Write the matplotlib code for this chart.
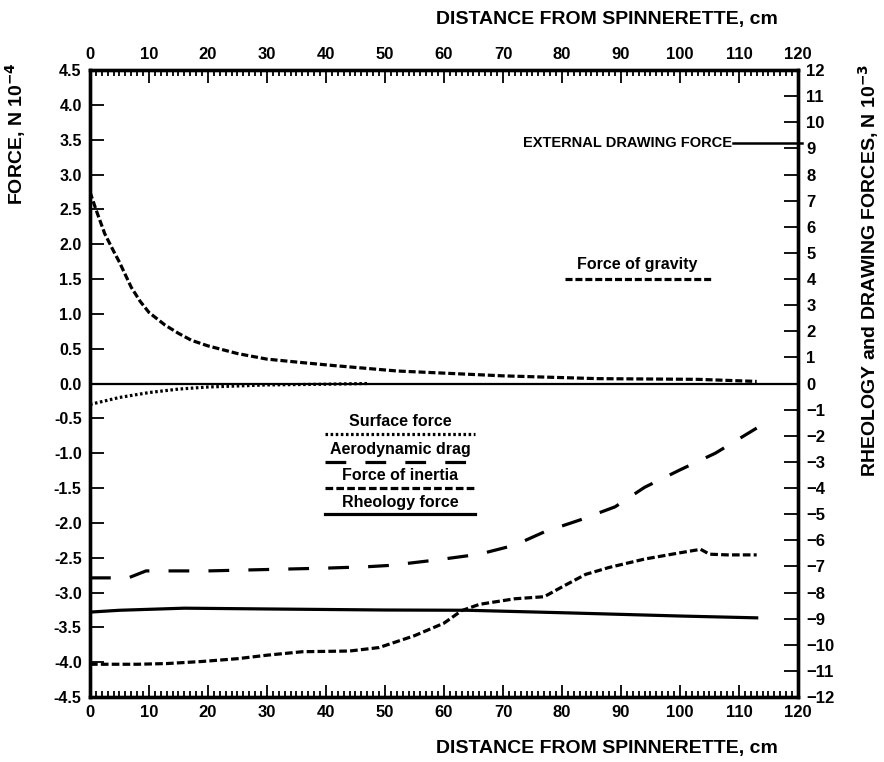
import matplotlib
matplotlib.use("Agg")
import matplotlib.pyplot as plt
from matplotlib.ticker import MultipleLocator, FixedLocator

plt.rcParams['font.family'] = ['Liberation Sans', 'DejaVu Sans']
plt.rcParams['font.weight'] = 'bold'
plt.rcParams['mathtext.default'] = 'bf'

# Distance from spinnerette, cm
gravity_x = [0, 1, 2.5, 4, 5, 7, 8.5, 10, 12.7, 15, 17.2, 20, 25, 30, 36, 41,
             52, 70, 86, 103, 113]
gravity_f = [2.75, 2.50, 2.15, 1.90, 1.74, 1.38, 1.18, 1.02, 0.84, 0.72, 0.62,
             0.54, 0.43, 0.35, 0.30, 0.26, 0.18, 0.11, 0.07, 0.06, 0.03]

surface_x = [0, 5, 10, 15, 20, 30, 40, 47]
surface_f = [-0.30, -0.20, -0.13, -0.08, -0.05, -0.02, -0.01, 0.0]

aero_x = [0, 6.5, 9.5, 12, 20, 30, 40, 47, 51, 59, 66, 72, 77, 83, 89, 94, 100, 106, 113]
aero_f = [-2.79, -2.79, -2.69, -2.69, -2.69, -2.67, -2.65, -2.63, -2.61, -2.53,
          -2.45, -2.32, -2.13, -1.96, -1.77, -1.49, -1.24, -1.00, -0.64]

inertia_x = [0, 8, 13, 19, 25, 30, 36, 44, 49, 55, 60, 63, 66, 72, 77, 80, 84, 88,
             94, 100, 103.5, 105, 108, 113]
inertia_f = [-4.03, -4.03, -4.02, -3.99, -3.95, -3.90, -3.85, -3.84, -3.79, -3.62,
             -3.44, -3.26, -3.17, -3.09, -3.06, -2.92, -2.74, -2.64, -2.52, -2.43,
             -2.38, -2.45, -2.46, -2.46]

# Right-hand scale (N 10^-3)
rheology_x = [0, 5, 16, 30, 50, 64, 81, 100, 113]
rheology_f = [-8.75, -8.68, -8.60, -8.63, -8.67, -8.68, -8.78, -8.90, -8.97]
external_drawing_force = 9.2

left_ticks = [-4.5, -4.0, -3.5, -3.0, -2.5, -2.0, -1.5, -1.0, -0.5, 0.0,
              0.5, 1.0, 1.5, 2.0, 2.5, 3.0, 3.5, 4.0, 4.5]
right_ticks = list(range(-12, 13))
x_ticks = list(range(0, 121, 10))

legend_labels = ["Surface force", "Aerodynamic drag", "Force of inertia", "Rheology force"]

LW = 2.3
gravity_style = dict(color='black', lw=LW, dashes=(2.2, 0.9))
surface_style = dict(color='black', lw=LW, dashes=(0.8, 0.8))
aero_style = dict(color='black', lw=LW, dashes=(6.5, 6.0))
inertia_style = dict(color='black', lw=LW, dashes=(2.4, 1.0))
rheology_style = dict(color='black', lw=LW)

fig = plt.figure(figsize=(8.84, 7.62), dpi=100)
ax = fig.add_axes([0.1018, 0.0853, 0.8009, 0.8228])
ax2 = ax.twinx()

ax.set_xlim(0, 120)
ax.set_ylim(-4.5, 4.5)
ax2.set_ylim(-12, 12)

ax.axhline(0, color='black', lw=1.6)

ax.plot(gravity_x, gravity_f, **gravity_style)
ax.plot(surface_x, surface_f, **surface_style)
ax.plot(aero_x, aero_f, **aero_style)
ax.plot(inertia_x, inertia_f, **inertia_style)
ax2.plot(rheology_x, rheology_f, **rheology_style)

# External drawing force marker on the right scale
ax2.plot([109, 120.6], [external_drawing_force] * 2, color='black', lw=1.8,
         clip_on=False)
ax2.text(108.8, external_drawing_force, "EXTERNAL DRAWING FORCE", ha='right',
         va='center', fontsize=10.5)

# Force of gravity key
ax.plot([80.5, 105.4], [1.5, 1.5], **gravity_style)
ax.text(92.8, 1.6, "Force of gravity", ha='center', va='bottom', fontsize=11.5)

# Key for the lower curves
key_styles = [surface_style, aero_style, inertia_style, rheology_style]
key_line_y = [-0.73, -1.12, -1.50, -1.88]
for label, style, ly in zip(legend_labels, key_styles, key_line_y):
    ax.plot([39.8, 65.3], [ly, ly], **style)
    ax.text(52.6, ly + 0.07, label, ha='center', va='bottom', fontsize=11.5)

for a in (ax, ax2):
    for s in a.spines.values():
        s.set_linewidth(2.4)

ax.yaxis.set_major_locator(FixedLocator(left_ticks))
ax.set_yticklabels([f"{v:.1f}" for v in left_ticks])
ax2.yaxis.set_major_locator(FixedLocator(right_ticks))
ax2.set_yticklabels([f"{v}" if v >= 0 else f"\u2212{abs(v)}" for v in right_ticks])

ax.xaxis.set_major_locator(FixedLocator(x_ticks))
ax.xaxis.set_minor_locator(MultipleLocator(1))
ax.tick_params(axis='x', which='both', direction='in', top=True, bottom=True,
               labeltop=True, labelbottom=True, labelsize=12, width=1.3)
ax.tick_params(axis='x', which='major', length=9, pad=6)
ax.tick_params(axis='x', which='minor', length=4)
ax.tick_params(axis='y', which='major', direction='in', length=10, width=1.3,
               labelsize=11.5, pad=6)
ax2.tick_params(axis='y', which='major', direction='in', length=10, width=1.3,
                labelsize=12, pad=6)

fig.text(0.687, 0.975, "DISTANCE FROM SPINNERETTE, cm", ha='center', va='center',
         fontsize=14)
fig.text(0.687, 0.018, "DISTANCE FROM SPINNERETTE, cm", ha='center', va='center',
         fontsize=14)
fig.text(0.018, 0.825, r"FORCE, N 10$^{-4}$", ha='center', va='center',
         rotation=90, fontsize=14)
fig.text(0.982, 0.645, r"RHEOLOGY and DRAWING FORCES, N 10$^{-3}$", ha='center',
         va='center', rotation=90, fontsize=14)

fig.savefig("out.png", dpi=100)
